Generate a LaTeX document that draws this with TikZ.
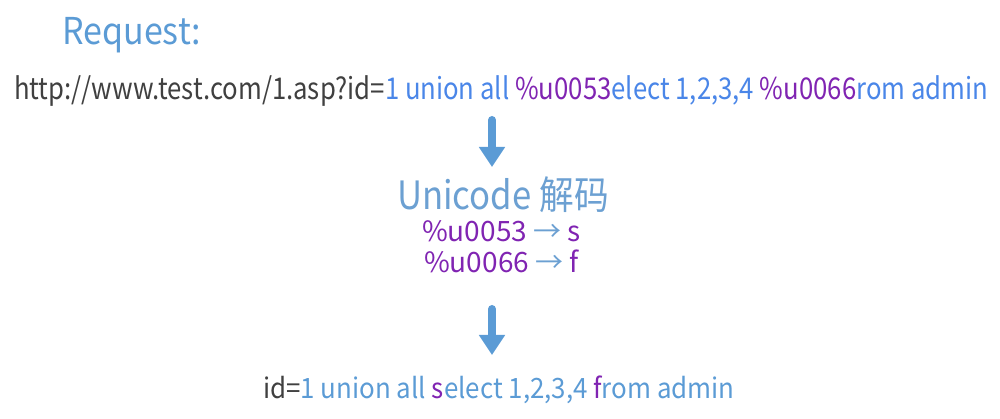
\documentclass[tikz,border=0pt]{standalone}
\usepackage{fontspec}
\setmainfont{Noto Sans CJK SC}
\usetikzlibrary{arrows.meta}
\definecolor{txtgray}{RGB}{64,64,64}
\definecolor{sqlblue}{RGB}{74,134,232}
\definecolor{hexpurple}{RGB}{128,36,178}
\definecolor{headblue}{RGB}{91,155,213}
\definecolor{codeblue}{RGB}{108,160,210}
\tikzset{%
	txtline/.style  = {inner sep = 0pt, anchor = base west}, % plain text line
	flow/.style     = {draw = headblue, line width = 8pt, line cap = round,
	                   -{Triangle[width = 25pt, length = 20pt]}} % big down arrow
}
\newcommand{\txtsize}[2]{\fontsize{#1}{#1}\selectfont\addfontfeatures{FakeStretch=#2}}

\begin{document}
\begin{tikzpicture}[x = 1pt, y = 1pt]
	\useasboundingbox (0,0) rectangle (1000,419);
	\draw % Drawing the text lines
	node at (62, 374) [txtline, font = \txtsize{37}{0.92}, text = headblue] (req) {Request:}
	node at (14, 319) [txtline, font = \txtsize{30}{0.857}, text = txtgray] (url)
		{http://www.test.com/1.asp?id=\textcolor{sqlblue}{1 union all }\textcolor{hexpurple}{\%u0053}\textcolor{sqlblue}{elect 1,2,3,4 }\textcolor{hexpurple}{\%u0066}\textcolor{sqlblue}{rom admin}}
	node at (397, 209) [txtline, font = \txtsize{39}{0.89}, text = codeblue] (dec) {Unicode 解码}
	node at (422, 177) [txtline, font = \txtsize{28}{1.0}, text = hexpurple] (map1) {\%u0053 \textcolor{codeblue}{→} s}
	node at (424, 146) [txtline, font = \txtsize{28}{1.0}, text = hexpurple] (map2) {\%u0066 \textcolor{codeblue}{→} f}
	node at (263, 20) [txtline, font = \txtsize{28}{0.925}, text = txtgray] (res)
		{id=\textcolor{headblue}{1 union all }\textcolor{hexpurple}{s}\textcolor{headblue}{elect 1,2,3,4 }\textcolor{hexpurple}{f}\textcolor{headblue}{rom admin}}
	;

	% Drawing the arrows
	\coordinate (a1top) at (492, 299);
	\coordinate (a1end) at (492, 252);
	\coordinate (a2top) at (492, 110);
	\coordinate (a2end) at (492, 64);
	\draw[flow] (a1top) -- (a1end);
	\draw[flow] (a2top) -- (a2end);
\end{tikzpicture}
\end{document}
